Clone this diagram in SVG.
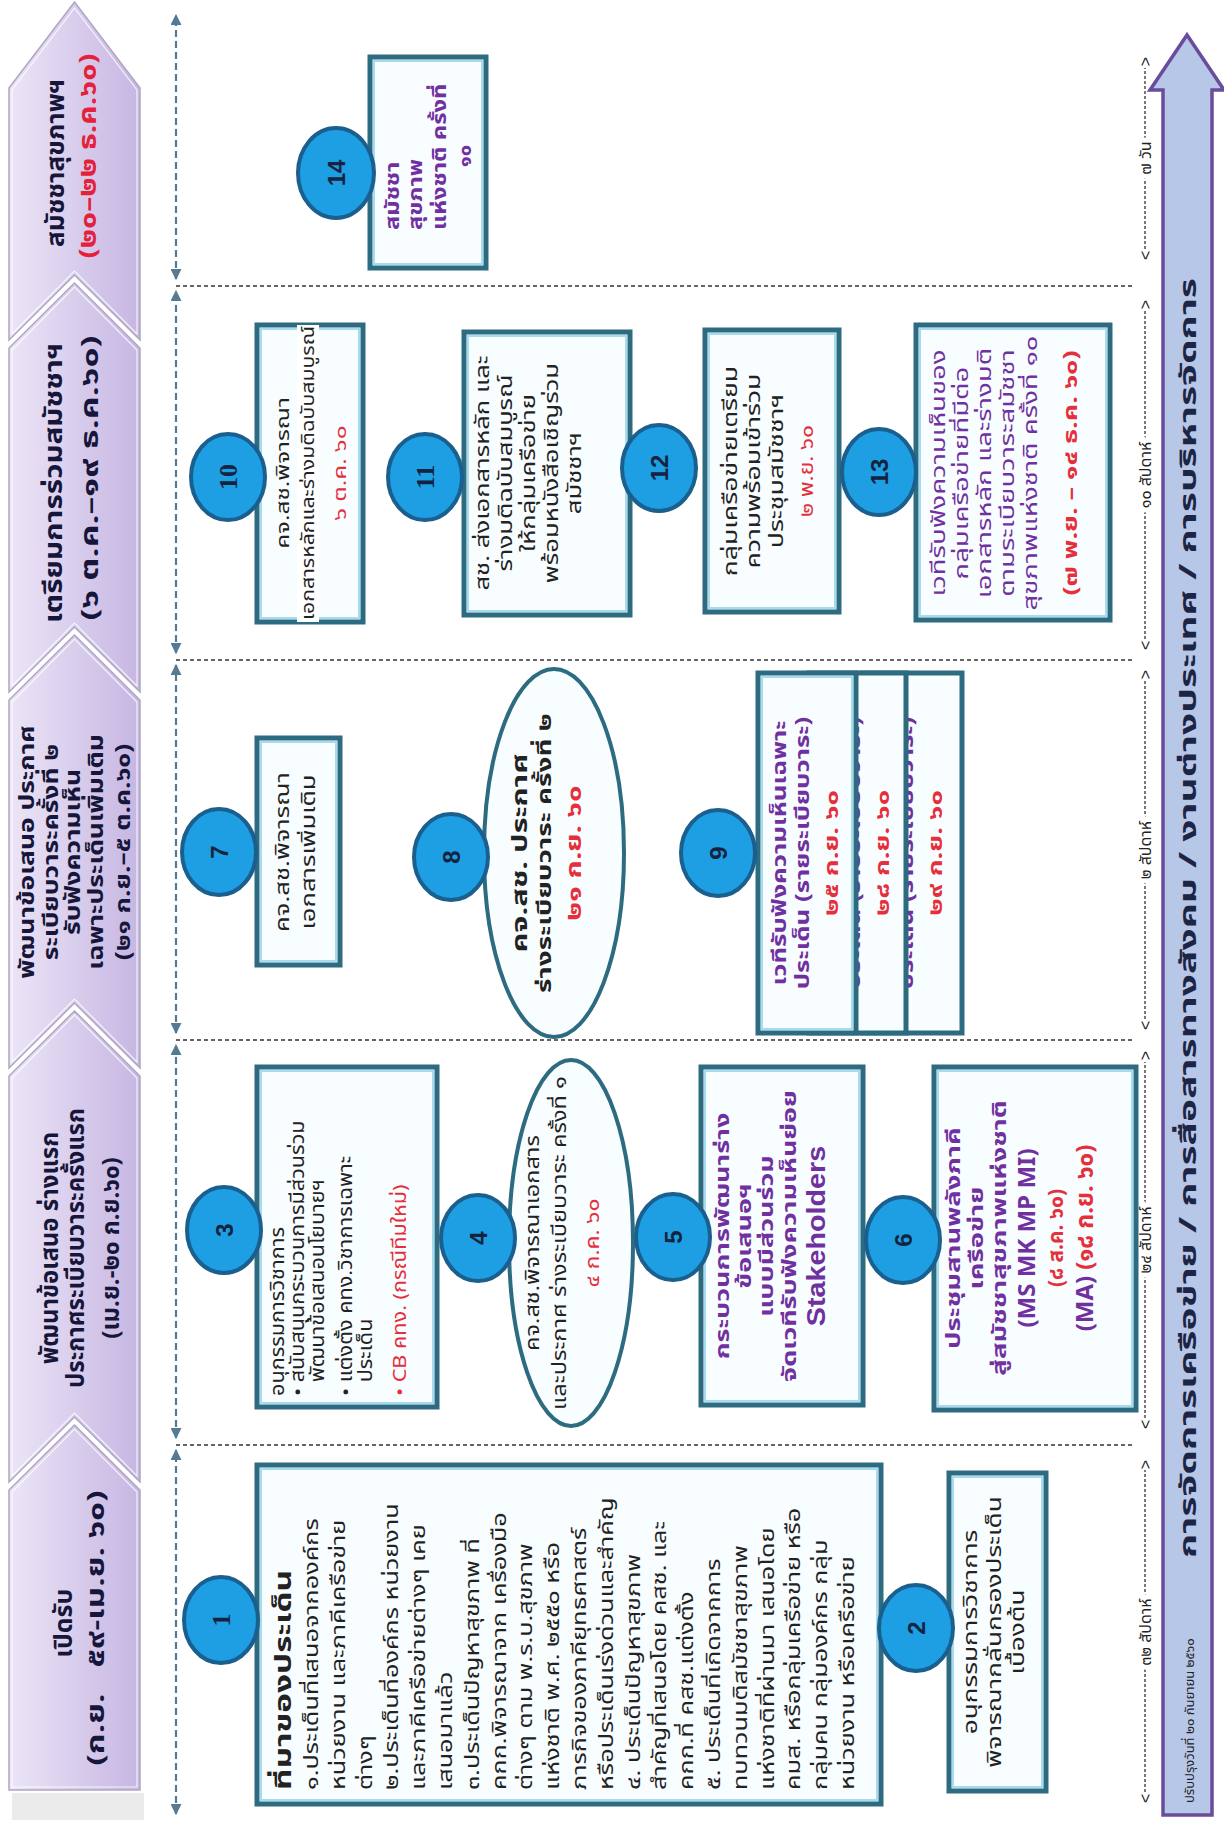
<svg xmlns="http://www.w3.org/2000/svg" width="1224" height="1828" viewBox="0 0 1224 1828">
<defs>
<style>
.th{font-family:"Noto Sans Thai","Tahoma","Leelawadee UI","Loma","Garuda","Noto Sans","DejaVu Sans",sans-serif;}
.chev{stroke:#aea6c2;stroke-width:1.5;fill:url(#cg);}
.chin{stroke:#ffffff;stroke-width:1.2;fill:none;opacity:0.8;}
.ct{font-weight:bold;font-size:25px;fill:#16163a;text-anchor:middle;}
.box{fill:#f8fdff;stroke:#2c6b80;stroke-width:5;}
.boxin{fill:none;stroke:#a6dcef;stroke-width:2;}
.ell{fill:#f8fdff;stroke:#2c6b80;stroke-width:4;}
.circ{fill:#1e9fe3;stroke:#1a5f8e;stroke-width:4;}
.num{font-family:"Liberation Sans",Arial,sans-serif;font-weight:bold;font-size:24px;fill:#14233f;text-anchor:middle;}
.nums{font-family:"Liberation Serif",serif;font-weight:bold;font-size:26px;fill:#14233f;text-anchor:middle;}
.t{font-size:19px;fill:#222;}
.m{text-anchor:middle;}
.pb{fill:#7030a0;font-weight:bold;}
.red{fill:#e5303c;}
.rb{fill:#e5303c;font-weight:bold;}
.sep{stroke:#333;stroke-width:1.3;stroke-dasharray:4 3;fill:none;}
.va{stroke:#557a95;stroke-width:2.2;stroke-dasharray:7 4;fill:none;marker-start:url(#ah);marker-end:url(#ah);}
.tl{stroke:#333;stroke-width:1.3;stroke-dasharray:3 2;fill:none;}
.tlt{font-size:16px;fill:#222;text-anchor:middle;paint-order:stroke;stroke:#fff;stroke-width:10px;}
.tle{font-family:"Liberation Sans",sans-serif;font-size:16px;fill:#222;}
</style>
<linearGradient id="cg" gradientUnits="userSpaceOnUse" x1="0" y1="9" x2="0" y2="140">
<stop offset="0" stop-color="#ece5f7"/><stop offset="1" stop-color="#c6b6e2"/>
</linearGradient>
<marker id="ah" viewBox="0 0 10 10" refX="9" refY="5" markerWidth="5" markerHeight="5" orient="auto-start-reverse" markerUnits="strokeWidth">
<path d="M0,0 L10,5 L0,10 z" fill="#557a95"/>
</marker>
</defs>
<rect x="0" y="0" width="1224" height="1828" fill="#fff"/>
<g transform="matrix(0,-1,1,0,0,1828)" class="th">
<g id="phases">
<rect x="8" y="12" width="27" height="132" fill="#ebebeb"/>
<g id="phase1"><polygon class="chev" points="38,9 338,9 403,74.5 338,140 38,140"/>
<polygon class="chin" points="41,12 336,12 399,74.5 336,137 41,137"/>
<text class="ct" x="205" y="72">เปิดรับ</text>
<text class="ct" x="200" y="104" style="font-size:24px" xml:space="preserve" textLength="275" lengthAdjust="spacingAndGlyphs">(ก.ย.   ๕๙-เม.ย. ๖๐)</text></g>
<g id="phase2"><polygon class="chev" points="346,9 752,9 817,74.5 752,140 346,140 411,74.5"/>
<polygon class="chin" points="352,12 750,12 813,74.5 750,137 352,137 415,74.5"/>
<text class="ct" x="580" y="58" style="font-size:24px">พัฒนาข้อเสนอ ร่างแรก</text>
<text class="ct" x="580" y="84" style="font-size:24px">ประกาศระเบียบวาระครั้งแรก</text>
<text class="ct" x="580" y="119" style="font-size:24px">(เม.ย.-๒๐ ก.ย.๖๐)</text></g>
<g id="phase3"><polygon class="chev" points="760,9 1128,9 1193,74.5 1128,140 760,140 825,74.5"/>
<polygon class="chin" points="766,12 1126,12 1189,74.5 1126,137 766,137 829,74.5"/>
<g transform="matrix(1.2,0,0,1,-195.2,0)">
<text class="ct" x="976" y="34" style="font-size:22px">พัฒนาข้อเสนอ ประกาศ</text>
<text class="ct" x="976" y="58" style="font-size:22px">ระเบียบวาระครั้งที่ ๒</text>
<text class="ct" x="976" y="80" style="font-size:22px">รับฟังความเห็น</text>
<text class="ct" x="976" y="103" style="font-size:22px">เฉพาะประเด็นเพิ่มเติม</text>
<text class="ct" x="976" y="130" style="font-size:22px">(๒๑ ก.ย.–๕ ต.ค.๖๐)</text></g></g>
<g id="phase4"><polygon class="chev" points="1136,9 1480,9 1545,74.5 1480,140 1136,140 1201,74.5"/>
<polygon class="chin" points="1142,12 1478,12 1541,74.5 1478,137 1142,137 1205,74.5"/>
<text class="ct" x="1345" y="62" textLength="280" lengthAdjust="spacingAndGlyphs">เตรียมการร่วมสมัชชาฯ</text>
<text class="ct" x="1350" y="98" style="font-size:24px" textLength="285" lengthAdjust="spacingAndGlyphs">(๖ ต.ค.–๑๙ ธ.ค.๖๐)</text></g>
<g id="phase5"><polygon class="chev" points="1488,9 1740,9 1826,74.5 1740,140 1488,140 1553,74.5"/>
<polygon class="chin" points="1494,12 1738,12 1820,74.5 1738,137 1494,137 1557,74.5"/>
<text class="ct" x="1665" y="64" textLength="168" lengthAdjust="spacingAndGlyphs">สมัชชาสุขภาพฯ</text>
<text class="ct" x="1672" y="96" style="font-size:24px;fill:#e5203a" textLength="205" lengthAdjust="spacingAndGlyphs">(๒๐–๒๒ ธ.ค.๖๐)</text></g>
</g>
<g id="connectors">
<line class="va" x1="14" y1="176" x2="378" y2="176"/>
<line class="va" x1="390" y1="176" x2="783" y2="176"/>
<line class="va" x1="795" y1="176" x2="1163" y2="176"/>
<line class="va" x1="1175" y1="176" x2="1537" y2="176"/>
<line class="va" x1="1549" y1="176" x2="1813" y2="176"/>
<line class="sep" x1="383" y1="176" x2="383" y2="1135"/>
<line class="sep" x1="788" y1="176" x2="788" y2="1135"/>
<line class="sep" x1="1168" y1="176" x2="1168" y2="1135"/>
<line class="sep" x1="1542" y1="176" x2="1542" y2="1135"/>
</g>
<g id="timeline">
<line class="tl" x1="36" y1="1145" x2="358" y2="1145"/>
<text class="tle" x="25" y="1151">&lt;</text><text class="tle" x="368" y="1151" text-anchor="end">&gt;</text>
<text class="tlt" x="196" y="1151">๓๒ สัปดาห์</text>
<line class="tl" x1="410" y1="1145" x2="766" y2="1145"/>
<text class="tle" x="399" y="1151">&lt;</text><text class="tle" x="777" y="1151" text-anchor="end">&gt;</text>
<text class="tlt" x="588" y="1151">๒๔ สัปดาห์</text>
<line class="tl" x1="809" y1="1145" x2="1147" y2="1145"/>
<text class="tle" x="798" y="1151">&lt;</text><text class="tle" x="1158" y="1151" text-anchor="end">&gt;</text>
<text class="tlt" x="978" y="1151">๒ สัปดาห์</text>
<line class="tl" x1="1189" y1="1145" x2="1517" y2="1145"/>
<text class="tle" x="1178" y="1151">&lt;</text><text class="tle" x="1528" y="1151" text-anchor="end">&gt;</text>
<text class="tlt" x="1353" y="1151">๑๐ สัปดาห์</text>
<line class="tl" x1="1579" y1="1145" x2="1760" y2="1145"/>
<text class="tle" x="1568" y="1151">&lt;</text><text class="tle" x="1771" y="1151" text-anchor="end">&gt;</text>
<text class="tlt" x="1670" y="1151">๗ วัน</text>
</g>
<g id="bigarrow">
<polygon points="13,1163 1738,1163 1738,1150 1793,1187 1738,1224 1738,1212 13,1212" fill="#b7c7e8" stroke="#6a4c9c" stroke-width="3.5"/>
<text x="910" y="1196" class="m" style="font-size:23px;font-weight:bold;fill:#1d2545" textLength="1280" lengthAdjust="spacingAndGlyphs">การจัดการเครือข่าย / การสื่อสารทางสังคม / งานต่างประเทศ / การบริหารจัดการ</text>
<text x="25" y="1194" style="font-size:13px;fill:#222">ปรับปรุงวันที่ ๒๐ กันยายน ๒๕๖๐</text>
</g>
<g id="node1">
<rect class="box" x="24" y="257" width="339" height="624"/>
<rect class="boxin" x="28" y="261" width="331" height="616"/>
<text class="t" x="38" y="291" style="font-weight:bold;font-size:23px" transform="matrix(1.45,0,0,1,-17.1,0)">ที่มาของประเด็น</text>
<g transform="matrix(1.33,0,0,1,-12.54,0)" style="font-size:20px">
<text class="t" x="38" y="318">๑.ประเด็นที่เสนอจากองค์กร</text>
<text class="t" x="38" y="345">หน่วยงาน และภาคีเครือข่าย</text>
<text class="t" x="38" y="372">ต่างๆ</text>
<text class="t" x="38" y="398">๒.ประเด็นที่องค์กร หน่วยงาน</text>
<text class="t" x="38" y="425">และภาคีเครือข่ายต่างๆ เคย</text>
<text class="t" x="38" y="452">เสนอมาแล้ว</text>
<text class="t" x="38" y="479">๓.ประเด็นปัญหาสุขภาพ ที่</text>
<text class="t" x="38" y="506">คกก.พิจารณาจาก เครื่องมือ</text>
<text class="t" x="38" y="532">ต่างๆ ตาม พ.ร.บ.สุขภาพ</text>
<text class="t" x="38" y="559">แห่งชาติ พ.ศ. ๒๕๕๐ หรือ</text>
<text class="t" x="38" y="586">ภารกิจของภาคียุทธศาสตร์</text>
<text class="t" x="38" y="613">หรือประเด็นเร่งด่วนและสำคัญ</text>
<text class="t" x="38" y="640">๔. ประเด็นปัญหาสุขภาพ</text>
<text class="t" x="38" y="666">สำคัญที่เสนอโดย คสช. และ</text>
<text class="t" x="38" y="693">คกก.ที่ คสช.แต่งตั้ง</text>
<text class="t" x="38" y="720">๕. ประเด็นที่เกิดจากการ</text>
<text class="t" x="38" y="747">ทบทวนมติสมัชชาสุขภาพ</text>
<text class="t" x="38" y="774">แห่งชาติที่ผ่านมา เสนอโดย</text>
<text class="t" x="38" y="800">คมส. หรือกลุ่มเครือข่าย หรือ</text>
<text class="t" x="38" y="827">กลุ่มคน กลุ่มองค์กร กลุ่ม</text>
<text class="t" x="38" y="854">หน่วยงาน หรือเครือข่าย</text>
</g>
<ellipse class="circ" cx="208" cy="221" rx="43" ry="37"/>
<text class="nums" x="208" y="230">1</text>
</g>
<g id="node2">
<rect class="box" x="37" y="949" width="318" height="97"/>
<rect class="boxin" x="41" y="953" width="310" height="89"/>
<g transform="matrix(1.38,0,0,1,-74.48,0)">
<text class="t m" x="196" y="977">อนุกรรมการวิชาการ</text>
<text class="t m" x="196" y="1001">พิจารณากลั่นกรองประเด็น</text>
<text class="t m" x="196" y="1024">เบื้องต้น</text>
</g>
<ellipse class="circ" cx="200" cy="916" rx="43" ry="37"/>
<text class="num" x="200" y="925">2</text>
</g>
<g id="node3">
<rect class="box" x="421" y="257" width="340" height="180"/>
<rect class="boxin" x="425" y="261" width="332" height="172"/>
<g transform="matrix(1.14,0,0,1,-60.48,0)" style="font-size:18px">
<text class="t" x="432" y="284">อนุกรรมการวิชาการ</text>
<text class="t" x="432" y="304">•</text>
<text class="t" x="444" y="304">สนับสนุนกระบวนการมีส่วนร่วม</text>
<text class="t" x="444" y="324">พัฒนาข้อเสนอนโยบายฯ</text>
<text class="t" x="432" y="352">•</text>
<text class="t" x="444" y="352">แต่งตั้ง คทง.วิชาการเฉพาะ</text>
<text class="t" x="444" y="372">ประเด็น</text>
<text class="t red" x="432" y="406">•</text>
<text class="t red" x="444" y="406">CB คทง. (กรณีทีมใหม่)</text>
</g>
<ellipse class="circ" cx="598" cy="224" rx="43" ry="37"/>
<text class="num" x="598" y="233">3</text>
</g>
<g id="node4">
<ellipse class="ell" cx="585" cy="571" rx="183" ry="62"/>
<g transform="matrix(1.24,0,0,1,-140.4,0)">
<text class="t m" x="585" y="539">คจ.สช.พิจารณาเอกสาร</text>
<text class="t m" x="585" y="566">และประกาศ ร่างระเบียบวาระ ครั้งที่ ๑</text>
</g>
<text class="t m red" x="585" y="599" transform="matrix(1.2,0,0,1,-117,0)">๔ ก.ค. ๖๐</text>
<ellipse class="circ" cx="590" cy="478" rx="43" ry="37"/>
<text class="num" x="590" y="487">4</text>
</g>
<g id="node5">
<rect class="box" x="423" y="701" width="338" height="162"/>
<rect class="boxin" x="427" y="705" width="330" height="154"/>
<g transform="matrix(1.42,0,0,1,-248.64,0)" style="font-size:20px">
<text class="t m pb" x="592" y="729">กระบวนการพัฒนาร่าง</text>
<text class="t m pb" x="592" y="751">ข้อเสนอฯ</text>
<text class="t m pb" x="592" y="773">แบบมีส่วนร่วม</text>
<text class="t m pb" x="592" y="796">จัดเวทีรับฟังความเห็นย่อย</text>
</g>
<text class="t m pb" x="592" y="825" style="font-size:25px;font-family:'Liberation Sans',sans-serif" transform="matrix(1.15,0,0,1,-88.8,0)">Stakeholders</text>
<ellipse class="circ" cx="591" cy="673" rx="43" ry="37"/>
<text class="num" x="591" y="682">5</text>
</g>
<g id="node6">
<rect class="box" x="418" y="934" width="343" height="202"/>
<rect class="boxin" x="422" y="938" width="335" height="194"/>
<g transform="matrix(1.45,0,0,1,-265.5,0)" style="font-size:20px">
<text class="t m pb" x="590" y="960">ประชุมสานพลังภาคี</text>
<text class="t m pb" x="590" y="983">เครือข่าย</text>
<text class="t m pb" x="590" y="1006">สู่สมัชชาสุขภาพแห่งชาติ</text>
</g>
<text class="t m pb" x="590" y="1035" style="font-size:24px">(MS MK MP MI)</text>
<text class="t m rb" x="590" y="1063" style="font-size:21px">(๘ ส.ค. ๖๐)</text>
<text class="t m" x="590" y="1093" style="font-size:24px;font-weight:bold"><tspan fill="#7030a0">(MA)</tspan> <tspan fill="#e5303c">(๑๘ ก.ย. ๖๐)</tspan></text>
<ellipse class="circ" cx="588" cy="903" rx="43" ry="37"/>
<text class="num" x="588" y="912">6</text>
</g>
<g id="node7">
<rect class="box" x="863" y="257" width="227" height="83"/>
<rect class="boxin" x="867" y="261" width="219" height="75"/>
<g transform="matrix(1.35,0,0,1,-341.6,0)">
<text class="t m" x="976" y="289">คจ.สช.พิจารณา</text>
<text class="t m" x="976" y="315">เอกสารเพิ่มเติม</text>
</g>
<ellipse class="circ" cx="976" cy="219" rx="43" ry="37"/>
<text class="num" x="976" y="228">7</text>
</g>
<g id="node8">
<ellipse class="ell" cx="975" cy="554" rx="184" ry="70"/>
<g transform="matrix(1.4,0,0,1,-390,0)">
<text class="t m" x="975" y="527" style="font-size:22px;font-weight:bold">คจ.สช. ประกาศ</text>
<text class="t m" x="975" y="551" style="font-size:20px;font-weight:bold">ร่างระเบียบวาระ ครั้งที่ ๒</text>
<text class="t m rb" x="975" y="581" style="font-size:21px">๒๑ ก.ย. ๖๐</text>
</g>
<ellipse class="circ" cx="971" cy="451" rx="43" ry="37"/>
<text class="num" x="971" y="460">8</text>
</g>
<g id="node9">
<rect class="box" x="795" y="862" width="360" height="100"/>
<g transform="matrix(1.36,0,0,1,-351,0)">
<text class="t m pb" x="975" y="890">เวทีรับฟังความเห็นเฉพาะ</text>
<text class="t m pb" x="975" y="913">ประเด็น (รายระเบียบวาระ)</text>
<text class="t m rb" x="975" y="942" style="font-size:20px">๒๙ ก.ย. ๖๐</text>
</g>
<rect class="box" x="795" y="809" width="360" height="97"/>
<g transform="matrix(1.36,0,0,1,-351,0)">
<text class="t m pb" x="975" y="837">เวทีรับฟังความเห็นเฉพาะ</text>
<text class="t m pb" x="975" y="860">ประเด็น (รายระเบียบวาระ)</text>
<text class="t m rb" x="975" y="889" style="font-size:20px">๒๘ ก.ย. ๖๐</text>
</g>
<rect class="box" x="795" y="758" width="360" height="98"/>
<rect class="boxin" x="799" y="762" width="352" height="90"/>
<g transform="matrix(1.36,0,0,1,-351,0)">
<text class="t m pb" x="975" y="786">เวทีรับฟังความเห็นเฉพาะ</text>
<text class="t m pb" x="975" y="809">ประเด็น (รายระเบียบวาระ)</text>
<text class="t m rb" x="975" y="838" style="font-size:20px">๒๕ ก.ย. ๖๐</text>
</g>
<ellipse class="circ" cx="975" cy="718" rx="43" ry="37"/>
<text class="num" x="975" y="727">9</text>
</g>
<g id="node10">
<rect class="box" x="1206" y="257" width="297" height="106"/>
<rect class="boxin" x="1210" y="261" width="289" height="98"/>
<rect x="1206" y="297" width="297" height="22" fill="#fff"/>
<g transform="matrix(1.35,0,0,1,-474.25,0)">
<text class="t m" x="1355" y="289" style="font-size:18px">คจ.สช.พิจารณา</text>
<text class="t m red" x="1355" y="346" style="font-size:18px">๖ ต.ค. ๖๐</text>
</g>
<text class="t m" x="1355" y="314" style="font-size:18px" textLength="294" lengthAdjust="spacingAndGlyphs">เอกสารหลักและร่างมติฉบับสมบูรณ์</text>
<ellipse class="circ" cx="1351" cy="228" rx="43" ry="37"/>
<text class="nums" x="1351" y="237">10</text>
</g>
<g id="node11">
<rect class="box" x="1213" y="464" width="283" height="166"/>
<rect class="boxin" x="1217" y="468" width="275" height="158"/>
<g transform="matrix(1.35,0,0,1,-474.25,0)">
<text class="t m" x="1355" y="489">สช. ส่งเอกสารหลัก และ</text>
<text class="t m" x="1355" y="512">ร่างมติฉบับสมบูรณ์</text>
<text class="t m" x="1355" y="535">ให้กลุ่มเครือข่าย</text>
<text class="t m" x="1355" y="558">พร้อมหนังสือเชิญร่วม</text>
<text class="t m" x="1355" y="581">สมัชชาฯ</text>
</g>
<ellipse class="circ" cx="1351" cy="425" rx="43" ry="37"/>
<text class="nums" x="1351" y="434">11</text>
</g>
<g id="node12">
<rect class="box" x="1216" y="705" width="282" height="134"/>
<rect class="boxin" x="1220" y="709" width="274" height="126"/>
<g transform="matrix(1.4,0,0,1,-542.8,0)">
<text class="t m" x="1357" y="737">กลุ่มเครือข่ายเตรียม</text>
<text class="t m" x="1357" y="760">ความพร้อมเข้าร่วม</text>
<text class="t m" x="1357" y="783">ประชุมสมัชชาฯ</text>
</g>
<text class="t m red" x="1357" y="813" transform="matrix(1.2,0,0,1,-271.4,0)">๒ พ.ย. ๖๐</text>
<ellipse class="circ" cx="1360" cy="659" rx="43" ry="37"/>
<text class="num" x="1360" y="668">12</text>
</g>
<g id="node13">
<rect class="box" x="1208" y="916" width="295" height="194"/>
<rect class="boxin" x="1212" y="920" width="287" height="186"/>
<g transform="matrix(1.45,0,0,1,-609.75,0)">
<text class="t m" x="1355" y="945" style="fill:#7030a0">เวทีรับฟังความเห็นของ</text>
<text class="t m" x="1355" y="968" style="fill:#7030a0">กลุ่มเครือข่ายที่มีต่อ</text>
<text class="t m" x="1355" y="991" style="fill:#7030a0">เอกสารหลัก และร่างมติ</text>
<text class="t m" x="1355" y="1014" style="fill:#7030a0">ตามระเบียบวาระสมัชชา</text>
<text class="t m" x="1355" y="1037" style="fill:#7030a0">สุขภาพแห่งชาติ ครั้งที่ ๑๐</text>
</g>
<text class="t m rb" x="1355" y="1077" style="font-size:20px" transform="matrix(1.35,0,0,1,-474.25,0)">(๗ พ.ย. – ๑๔ ธ.ค. ๖๐)</text>
<ellipse class="circ" cx="1356" cy="879" rx="43" ry="37"/>
<text class="num" x="1356" y="888">13</text>
</g>
<g id="node14">
<rect class="box" x="1560" y="370" width="211" height="116"/>
<rect class="boxin" x="1564" y="374" width="203" height="108"/>
<g transform="matrix(1.25,0,0,1,-399.5,0)" style="font-size:20px">
<text class="t pb" x="1598" y="399">สมัชชา</text>
<text class="t pb" x="1598" y="422">สุขภาพ</text>
<text class="t pb" x="1598" y="446">แห่งชาติ ครั้งที่</text>
</g>
<text class="t pb m" x="1672" y="471" style="font-size:20px">๑๐</text>
<ellipse class="circ" cx="1655" cy="336" rx="45" ry="38"/>
<text class="num" x="1655" y="345">14</text>
</g>
</g>
</svg>
